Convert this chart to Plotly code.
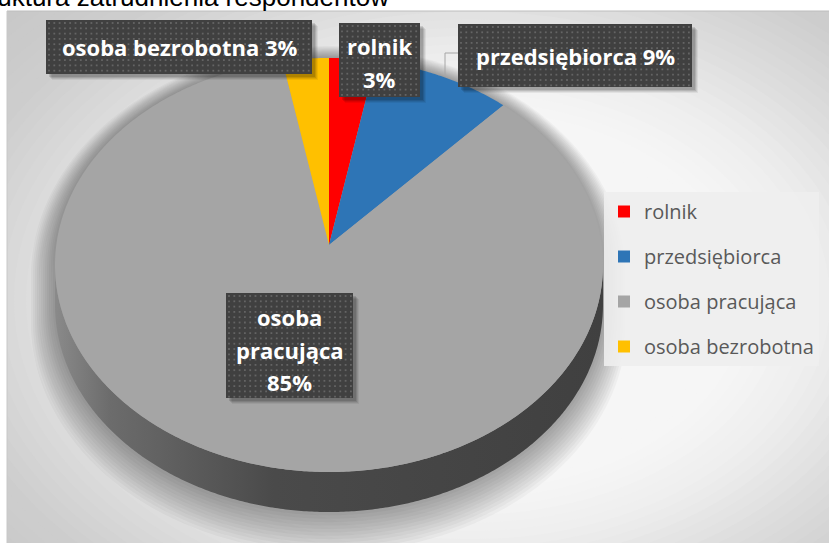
import numpy as np
import plotly.graph_objects as go

# ---- data -------------------------------------------------------------
title_text = "Struktura zatrudnienia respondentów"
categories = ["rolnik", "przedsiębiorca", "osoba pracująca", "osoba bezrobotna"]
shares = [3, 9, 85, 3]  # percent
slice_colors = ["#ff0000", "#2e75b6", "#a5a5a5", "#ffc000"]

# ---- canvas / pie geometry (pixel-like axis units, y grows downward) --
W, H = 829, 543
ML, MT = 7, 11
CX, CY, RX, RY = 329.0, 265.0, 272.7, 207.0
PERSP = -0.097      # perspective tilt of the top face
DEPTH = 40.0        # thickness of the pie

def proj(theta, drop=0.0):
    """Project a rim angle (clockwise from 12 o'clock) onto the screen."""
    u = np.sin(theta)
    v = -np.cos(theta)
    d = 1 + PERSP * v
    return CX + RX * u / d, CY + RY * (v + PERSP) / d + drop

CENTER = (CX, CY + RY * PERSP)
THETA_R = np.arccos(PERSP)              # right silhouette point
THETA_L = 2 * np.pi - THETA_R           # left silhouette point

def arc(a0, a1, drop=0.0, step=np.radians(0.5)):
    n = max(2, int(abs(a1 - a0) / step) + 1)
    t = np.linspace(a0, a1, n)
    return proj(t, drop)

def shade(hex_color, f):
    h = hex_color.lstrip("#")
    r, g, b = (int(h[i:i + 2], 16) for i in (0, 2, 4))
    return "rgb(%d,%d,%d)" % (r * f, g * f, b * f)

def gray_at(t):
    stops = [(0.0, 247), (0.6, 246), (0.75, 238), (0.93, 221),
             (1.12, 206), (1.35, 199), (1.7, 196)]
    ts = [s[0] for s in stops]
    vs = [s[1] for s in stops]
    g = float(np.interp(t, ts, vs))
    return "rgb(%d,%d,%d)" % (g, g, g)

fig = go.Figure()
shapes = []

# ---- background: soft radial light behind the pie ----------------------
BGX, BGY, BGRX, BGRY = 470, 300, 480, 330
for t in np.arange(1.7, 0.5, -0.025):
    shapes.append(dict(type="circle", xref="x", yref="y", layer="below",
                       x0=BGX - t * BGRX, x1=BGX + t * BGRX,
                       y0=BGY - t * BGRY, y1=BGY + t * BGRY,
                       fillcolor=gray_at(t), line=dict(width=0)))

# ---- soft drop shadow around the pie silhouette -------------------------
top_x, top_y = arc(THETA_L, THETA_R + 2 * np.pi)
bot_x, bot_y = arc(THETA_R, THETA_L, DEPTH)
sil_x = np.concatenate([top_x, bot_x])
sil_y = np.concatenate([top_y, bot_y])
scx, scy = CX, CY + DEPTH / 2
for k in range(12, 0, -1):
    grow = 2.0 * k
    sx = scx + (sil_x - scx) * (1 + grow / RX)
    sy = scy + (sil_y - scy) * (1 + grow / RY) + 1.2 * k
    fig.add_trace(go.Scatter(x=sx, y=sy, fill="toself", mode="none",
                             fillcolor="rgba(0,0,0,0.03)",
                             hoverinfo="skip", showlegend=False))

# ---- slices --------------------------------------------------------------
fractions = np.array(shares, dtype=float) / sum(shares)
edges = np.concatenate([[0.0], np.cumsum(fractions)]) * 2 * np.pi

# side walls (only the front half of the rim is visible)
for cat, color, a0, a1 in zip(categories, slice_colors, edges[:-1], edges[1:]):
    s0, s1 = max(a0, THETA_R), min(a1, THETA_L)
    if s1 <= s0:
        continue
    ux, uy = arc(s0, s1)
    lx, ly = arc(s1, s0, DEPTH)
    fig.add_trace(go.Scatter(
        x=np.concatenate([ux, lx]), y=np.concatenate([uy, ly]),
        fill="toself", mode="none",
        fillgradient=dict(type="horizontal",
                          colorscale=[[0.0, shade(color, 0.84)],
                                      [0.10, shade(color, 0.66)],
                                      [0.40, shade(color, 0.45)],
                                      [1.0, shade(color, 0.39)]]),
        hoverinfo="skip", showlegend=False))

# top faces
for cat, color, a0, a1 in zip(categories, slice_colors, edges[:-1], edges[1:]):
    ax, ay = arc(a0, a1)
    fig.add_trace(go.Scatter(
        x=np.concatenate([[CENTER[0]], ax, [CENTER[0]]]),
        y=np.concatenate([[CENTER[1]], ay, [CENTER[1]]]),
        fill="toself", mode="none", fillcolor=color,
        name=cat, hoverinfo="skip", showlegend=False))

# ---- data labels: dark dotted boxes with white text -----------------------
label_boxes = {
    "rolnik": (339, 23, 420, 97),
    "przedsiębiorca": (458, 24, 692, 87),
    "osoba pracująca": (226, 293, 353, 398),
    "osoba bezrobotna": (46, 20, 312, 74),
}
label_line_y = {
    "rolnik": [46, 79],
    "przedsiębiorca": [56],
    "osoba pracująca": [317, 350, 382],
    "osoba bezrobotna": [47],
}

annotations = []
dot_x, dot_y = [], []
for cat, val in zip(categories, shares):
    x0, y0, x1, y1 = label_boxes[cat]
    # blurred shadow
    for off, alpha in ((6, 0.06), (5, 0.08), (4, 0.10), (3, 0.12)):
        fig.add_trace(go.Scatter(
            x=[x0 + off, x1 + off, x1 + off, x0 + off, x0 + off],
            y=[y0 + off, y0 + off, y1 + off, y1 + off, y0 + off],
            fill="toself", mode="none", fillcolor="rgba(0,0,0,%.2f)" % alpha,
            hoverinfo="skip", showlegend=False))
    fig.add_trace(go.Scatter(
        x=[x0, x1, x1, x0, x0], y=[y0, y0, y1, y1, y0],
        fill="toself", mode="none", fillcolor="#404040",
        hoverinfo="skip", showlegend=False))
    for gx in np.arange(x0 + 3, x1 - 1, 5.3):
        for gy in np.arange(y0 + 3, y1 - 1, 5.3):
            dot_x.append(gx)
            dot_y.append(gy)

    full = f"{cat} {val}%"
    n = len(label_line_y[cat])
    lines = [full] if n == 1 else full.split()
    for line, ly in zip(lines, label_line_y[cat]):
        annotations.append(dict(
            x=(x0 + x1) / 2, y=ly, xref="x", yref="y", text=line,
            showarrow=False, xanchor="center", yanchor="middle",
            font=dict(family="Open Sans", size=22, color="#ffffff",
                      weight="bold")))

fig.add_trace(go.Scatter(x=dot_x, y=dot_y, mode="markers",
                         marker=dict(symbol="square", size=1.8,
                                     color="rgba(125,125,125,0.6)"),
                         hoverinfo="skip", showlegend=False))

# leader line for the small slice label
shapes.append(dict(type="path", xref="x", yref="y", layer="above",
                   path="M 458 53 L 445 53 L 445 76",
                   line=dict(color="#a6a6a6", width=1)))

# frame of the chart area
shapes.append(dict(type="line", xref="paper", yref="paper", x0=0, x1=1,
                   y0=1, y1=1, line=dict(color="#bdbdbd", width=1),
                   layer="above"))
shapes.append(dict(type="line", xref="paper", yref="paper", x0=0, x1=0,
                   y0=0, y1=1, line=dict(color="#c8c8c8", width=1),
                   layer="above"))

# title (its left part lies outside the visible page)
annotations.append(dict(
    text=title_text, xref="paper", yref="paper",
    x=(-38 - ML) / (W - ML), y=1 + (MT - 14) / (H - MT),
    xanchor="left", yanchor="bottom", showarrow=False,
    font=dict(family="Liberation Sans", size=26, color="#000000")))

# legend entries
for cat, color in zip(categories, slice_colors):
    fig.add_trace(go.Scatter(x=[None], y=[None], mode="markers", name=cat,
                             legendgroup=cat,
                             marker=dict(symbol="square", size=14,
                                         color=color)))

fig.update_layout(
    width=W, height=H,
    margin=dict(l=ML, r=0, t=MT, b=0),
    paper_bgcolor="#ffffff",
    plot_bgcolor=gray_at(1.7),
    xaxis=dict(range=[ML, W], visible=False, fixedrange=True),
    yaxis=dict(range=[H, MT], visible=False, fixedrange=True),
    shapes=shapes,
    annotations=annotations,
    showlegend=True,
    legend=dict(x=(604 - ML) / (W - ML), xanchor="left",
                y=1 - (192 - MT) / (H - MT), yanchor="top",
                bgcolor="rgba(238,238,238,0.9)", borderwidth=0,
                font=dict(family="Open Sans", size=20, color="#595959"),
                tracegroupgap=16, traceorder="grouped",
                itemsizing="constant"),
    hovermode=False,
)

fig.write_html("out.html")
